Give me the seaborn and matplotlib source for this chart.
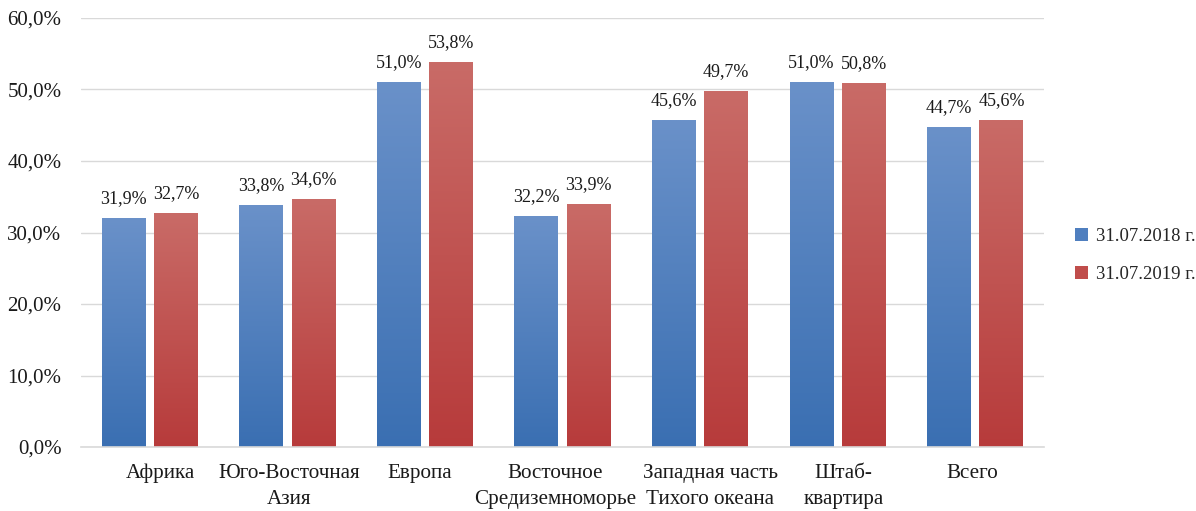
import numpy as np
import pandas as pd
import matplotlib
matplotlib.use("Agg")
import matplotlib.pyplot as plt
import seaborn as sns
from matplotlib.colors import LinearSegmentedColormap
from matplotlib.patches import Patch
from matplotlib.transforms import ScaledTranslation

categories = ["Африка", "Юго-Восточная\nАзия", "Европа", "Восточное\nСредиземноморье",
              "Западная часть\nТихого океана", "Штаб-\nквартира", "Всего"]
series_names = ["31.07.2018 г.", "31.07.2019 г."]
values_2018 = [31.9, 33.8, 51.0, 32.2, 45.6, 51.0, 44.7]
values_2019 = [32.7, 34.6, 53.8, 33.9, 49.7, 50.8, 45.6]
y_ticks = [0, 10, 20, 30, 40, 50, 60]

df = pd.DataFrame({
    "cat": categories * 2,
    "series": [series_names[0]] * len(categories) + [series_names[1]] * len(categories),
    "value": values_2018 + values_2019,
})

sns.set_theme(style="white")
plt.rcParams['font.family'] = ['Liberation Serif', 'DejaVu Serif']

fig = plt.figure(figsize=(11.96, 5.11), dpi=100)
ax = fig.add_axes([0.0677, 0.1252, 0.8053, 0.8396])

mid_colors = {series_names[0]: "#4F7FBF", series_names[1]: "#C04D4B"}
grad = {
    series_names[0]: ("#6A91C9", "#3A6FB2"),
    series_names[1]: ("#C96B67", "#B73B3B"),
}

sns.barplot(data=df, x="cat", y="value", hue="series", hue_order=series_names,
            order=categories, palette=mid_colors, width=0.76, gap=0.16,
            ax=ax, legend=False, errorbar=None)

n = len(categories)
patches = [p for p in ax.patches]
for i, p in enumerate(patches):
    s = series_names[0] if i < n else series_names[1]
    top, bot = grad[s]
    cmap = LinearSegmentedColormap.from_list("g", [bot, top])
    x0, y0 = p.get_x(), p.get_y()
    w, h = p.get_width(), p.get_height()
    img = np.linspace(0, 1, 256).reshape(-1, 1)
    ax.imshow(img, cmap=cmap, origin="lower", aspect="auto",
              extent=[x0, x0 + w, y0, y0 + h], zorder=p.get_zorder() + 0.1)
    p.set_facecolor("none")
    p.set_edgecolor("none")
    ax.text(x0 + w / 2, y0 + h + 1.6, f"{h:.1f}%".replace(".", ","),
            ha="center", va="bottom", fontsize=13, color="#1a1a1a")

ax.set_xlim(-0.5, n - 0.5)
ax.set_ylim(0, 60)
ax.set_yticks(y_ticks)
ax.set_yticklabels([f"{v:.1f}%".replace(".", ",") for v in y_ticks], fontsize=15, color="#1a1a1a")
ax.set_xticks(range(n))
ax.set_xticklabels(categories, fontsize=15.2, color="#1a1a1a", linespacing=1.55)
ax.tick_params(axis="both", length=0)
ax.tick_params(axis="y", pad=14)
ax.tick_params(axis="x", pad=12)
ax.set_xlabel("")
ax.set_ylabel("")

# small horizontal nudges of category labels, as in the reference layout (pixels)
nudges_px = [11, 2, -5, -7, 10, 6, -3]
for lbl, dx in zip(ax.get_xticklabels(), nudges_px):
    lbl.set_transform(lbl.get_transform() + ScaledTranslation(dx / 100, 0, fig.dpi_scale_trans))

ax.yaxis.grid(True, color="#D9D9D9", linewidth=1)
ax.set_axisbelow(True)
for side in ["top", "right", "left"]:
    ax.spines[side].set_visible(False)
ax.spines["bottom"].set_color("#D9D9D9")
ax.spines["bottom"].set_linewidth(1.2)

handles = [Patch(facecolor=mid_colors[s], edgecolor="none") for s in series_names]
fig.legend(handles, series_names, loc="center left", bbox_to_anchor=(0.899, 0.5),
           frameon=False, fontsize=13.5, handlelength=0.7, handleheight=0.7,
           handletextpad=0.4, labelspacing=1.15, borderpad=0, borderaxespad=0)

fig.savefig("out.png", dpi=100)
